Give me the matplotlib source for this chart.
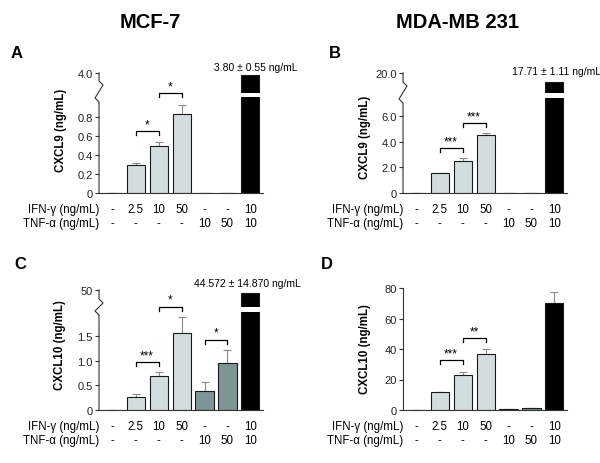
import matplotlib
matplotlib.use("Agg")
import matplotlib.pyplot as plt
from matplotlib.lines import Line2D
from matplotlib.transforms import blended_transform_factory

plt.rcParams["font.family"] = ["Liberation Sans", "DejaVu Sans"]

W, H = 600, 464

# condition labels (shared by all panels)
ifn_labels = ["-", "2.5", "10", "50", "-", "-", "10"]
tnf_labels = ["-", "-", "-", "-", "10", "50", "10"]

# CXCL9 / CXCL10 in ng/mL
a_vals = [0, 0.29, 0.49, 0.83, 0.0, 0.005, 3.80]
a_err = [0, 0.03, 0.05, 0.10, 0, 0, 0.55]
b_vals = [0, 1.52, 2.49, 4.49, 0, 0, 17.71]
b_err = [0, 0.06, 0.25, 0.2, 0, 0, 1.11]
c_vals = [0, 0.27, 0.69, 1.57, 0.38, 0.96, 44.572]
c_err = [0, 0.06, 0.09, 0.32, 0.19, 0.26, 14.870]
d_vals = [0, 11.8, 23.0, 36.4, 0.5, 1.1, 70.2]
d_err = [0, 0.3, 1.9, 3.3, 0, 0, 7.1]

# significance brackets: (from, to, height, label)
a_sig = [(1, 2, 0.65, "*"), (2, 3, 1.05, "*")]
b_sig = [(1, 2, 3.5, "***"), (2, 3, 5.45, "***")]
c_sig = [(1, 2, 0.98, "***"), (2, 3, 2.1, "*"), (4, 5, 1.43, "*")]
d_sig = [(1, 2, 32.5, "***"), (2, 3, 47.3, "**")]

LIGHT = "#d4dddd"
DARK = "#7f9595"
bar_colors = ["white", LIGHT, LIGHT, LIGHT, DARK, DARK, "black"]
XLIM = (-0.6, 6.55)
BAR_W = 0.79

fig = plt.figure(figsize=(W / 100, H / 100), dpi=100)


def axes_px(left, right, top, bottom):
    return fig.add_axes([left / W, 1 - bottom / H, (right - left) / W, (bottom - top) / H])


def style(ax, ylim, ticks, labels, show_bottom=True):
    ax.set_xlim(*XLIM)
    ax.set_ylim(*ylim)
    for s in ["top", "right", "left"]:
        ax.spines[s].set_visible(False)
    ax.spines["bottom"].set_visible(show_bottom)
    ax.spines["bottom"].set_linewidth(0.8)
    ax.spines["bottom"].set_color("#333333")
    ax.set_xticks([])
    ax.set_yticks(ticks)
    ax.set_yticklabels(labels)
    ax.tick_params(axis="y", direction="out", length=3, width=0.8, color="#333333",
                   labelsize=8, labelcolor="#222222", pad=1.5)
    ax.patch.set_alpha(0)


def draw_bars(ax, vals, err=None):
    x = range(len(vals))
    ax.bar(x, vals, width=BAR_W, color=bar_colors, edgecolor="#1a1a1a", linewidth=0.8, zorder=2)
    if err is not None:
        lower = [0] * len(err)
        ax.errorbar(x, vals, yerr=[lower, err], fmt="none", ecolor="#8a8a8a",
                    elinewidth=0.8, capsize=3.2, capthick=0.8, zorder=1)


def draw_sig(ax, sigs):
    y0, y1 = ax.get_ylim()
    h_px = ax.get_position().height * H
    leg = (y1 - y0) * 4 / h_px
    for i, j, y, lab in sigs:
        ax.plot([i, i, j, j], [y - leg, y, y, y - leg], color="black", lw=0.9,
                clip_on=False, zorder=3)
        ax.annotate(lab, xy=((i + j) / 2, y), xytext=(0, 0.5), textcoords="offset points",
                    ha="center", va="bottom", fontsize=8.5, annotation_clip=False)


def draw_conditions(ax):
    trans = blended_transform_factory(ax.transData, ax.transAxes)
    for i in range(len(ifn_labels)):
        ax.annotate(ifn_labels[i], xy=(i, 0), xycoords=trans, xytext=(0, -11.5),
                    textcoords="offset points", ha="center", va="center", fontsize=8.3)
        ax.annotate(tnf_labels[i], xy=(i, 0), xycoords=trans, xytext=(0, -21.6),
                    textcoords="offset points", ha="center", va="center", fontsize=8.3)
    ax.annotate("IFN-γ (ng/mL)", xy=(0, 0), xycoords="axes fraction", xytext=(0, -11.5),
                textcoords="offset points", ha="right", va="center", fontsize=8.3)
    ax.annotate("TNF-α (ng/mL)", xy=(0, 0), xycoords="axes fraction", xytext=(0, -21.6),
                textcoords="offset points", ha="right", va="center", fontsize=8.3)


def yaxis_line(x, top, z0, z1, bottom):
    xs = [x, x, x + 4, x - 4, x, x]
    ys = [top, z0, z0 + 4, z1 - 4, z1, bottom]
    fig.add_artist(Line2D([v / W for v in xs], [1 - v / H for v in ys],
                          color="#333333", lw=0.8, transform=fig.transFigure))


def broken_panel(left, right, up_top, up_bot, lo_top, lo_bot, z0, z1,
                 vals, err, up_ylim, up_label, lo_ylim, lo_ticks, lo_labels, sigs):
    ax_up = axes_px(left, right, up_top, up_bot)
    ax_lo = axes_px(left, right, lo_top, lo_bot)
    draw_bars(ax_up, vals)
    draw_bars(ax_lo, vals, err)
    style(ax_up, up_ylim, [up_ylim[1]], [up_label], show_bottom=False)
    style(ax_lo, lo_ylim, lo_ticks, lo_labels)
    draw_sig(ax_lo, sigs)
    draw_conditions(ax_lo)
    yaxis_line(left, up_top, z0, z1, lo_bot)
    return ax_lo


# A: MCF-7, CXCL9
broken_panel(99, 263, 74, 94, 98, 194, 82, 103, a_vals, a_err,
             (2.0, 4.0), "4.0", (0, 1.01),
             [0, 0.2, 0.4, 0.6, 0.8], ["0", "0.2", "0.4", "0.6", "0.8"], a_sig)

# B: MDA-MB 231, CXCL9
broken_panel(403, 567, 74, 94, 99, 194, 83, 104, b_vals, b_err,
             (14.9, 20.0), "20.0", (0, 7.4),
             [0, 2, 4, 6], ["0", "2.0", "4.0", "6.0"], b_sig)

# C: MCF-7, CXCL10
broken_panel(99, 263, 291, 308, 313, 411, 300, 316, c_vals, c_err,
             (19.3, 50), "50", (0, 1.99),
             [0, 0.5, 1.0, 1.5], ["0", "0.5", "1.0", "1.5"], c_sig)

# D: MDA-MB 231, CXCL10 (no break)
ax_d = axes_px(403, 567, 289, 411)
draw_bars(ax_d, d_vals, d_err)
style(ax_d, (0, 80), [0, 20, 40, 60, 80], ["0", "20", "40", "60", "80"])
ax_d.spines["left"].set_visible(True)
ax_d.spines["left"].set_linewidth(0.8)
ax_d.spines["left"].set_color("#333333")
draw_sig(ax_d, d_sig)
draw_conditions(ax_d)


def ftext(px, py, s, **kw):
    fig.text(px / W, 1 - py / H, s, **kw)


ftext(150, 23, "MCF-7", fontsize=14.5, fontweight="bold", ha="center", va="center")
ftext(457, 23, "MDA-MB 231", fontsize=14.5, fontweight="bold", ha="center", va="center")
for lab, px, py in [("A", 17, 53), ("B", 335, 53), ("C", 20, 265), ("D", 327, 265)]:
    ftext(px, py, lab, fontsize=12, fontweight="bold", ha="center", va="center")

ftext(61, 130, "CXCL9 (ng/mL)", fontsize=8.3, fontweight="bold", rotation=90, ha="center", va="center")
ftext(365, 137, "CXCL9 (ng/mL)", fontsize=8.3, fontweight="bold", rotation=90, ha="center", va="center")
ftext(60, 345, "CXCL10 (ng/mL)", fontsize=8.3, fontweight="bold", rotation=90, ha="center", va="center")
ftext(365, 349, "CXCL10 (ng/mL)", fontsize=8.3, fontweight="bold", rotation=90, ha="center", va="center")

ftext(256, 68, f"{a_vals[6]:.2f} ± {a_err[6]:.2f} ng/mL", fontsize=7.5, ha="center", va="center")
ftext(556, 72, f"{b_vals[6]:.2f} ± {b_err[6]:.2f} ng/mL", fontsize=7.5, ha="center", va="center")
ftext(247, 284, f"{c_vals[6]:.3f} ± {c_err[6]:.3f} ng/mL", fontsize=7.5, ha="center", va="center")

fig.savefig("out.png", dpi=100)
